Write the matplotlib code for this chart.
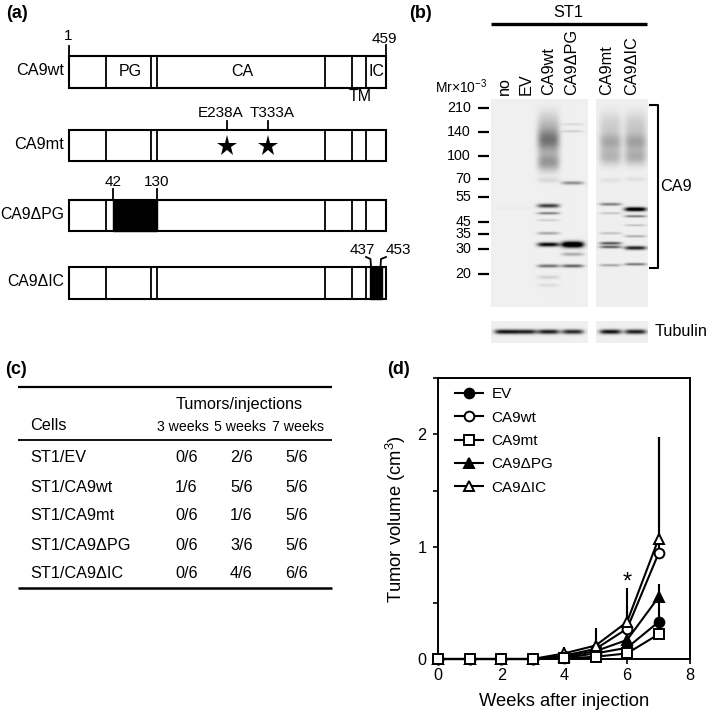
import matplotlib
matplotlib.use("Agg")
import matplotlib.pyplot as plt
import numpy as np

plt.rcParams["font.family"] = ["Liberation Sans", "DejaVu Sans"]
plt.rcParams["mathtext.fontset"] = "custom"
plt.rcParams["mathtext.rm"] = "Liberation Sans"
plt.rcParams["mathtext.default"] = "regular"

# panel (a): construct names and domain borders (pixel positions on the sketch)
constructs = ["CA9wt", "CA9mt", "CA9ΔPG", "CA9ΔIC"]
construct_sizes = [11.7, 11.7, 11.3, 11.3]
construct_tops = [56, 129.5, 199.5, 267]
box_left, box_right, box_height = 68.5, 386, 31.5
domain_borders = [106, 150.7, 156.7, 324.7, 352.3, 366]
pg_deletion_borders = [106]
pg_deletion = (113, 157)
ic_deletion_borders = [106, 150.7, 156.7, 324.7, 352.3]
ic_deletion = (370, 381.5)
star_x = [227, 267.5]
star_labels = ["E238A", "T333A"]

# panel (b): ladder and gel bands
ladder_labels = ["210", "140", "100", "70", "55", "45", "35", "30", "20"]
ladder_y = [108.3, 132.3, 156, 179, 196.7, 221.7, 234.3, 249, 274]
lane_labels = ["no", "EV", "CA9wt", "CA9ΔPG", "CA9mt", "CA9ΔIC"]
lane_label_x = [504, 526, 549, 572, 607, 632]
lane_x = [505, 525, 547.7, 571.7, 610, 635]
# (y, thickness, darkness) for every band or smear part
lane_bands = [
    [(208, 1.0, 0.02)],
    [(208, 1.0, 0.02)],
    [(122, 12, 0.15), (140, 12, 0.48), (162, 9, 0.34), (180, 2.5, 0.09),
     (205.5, 2.0, 0.72), (213, 1.3, 0.45), (220, 1.1, 0.14), (233, 1.4, 0.3),
     (244.3, 2.1, 0.95), (265.7, 1.6, 0.52), (277, 1.8, 0.12), (285, 1.6, 0.08)],
    [(124, 1.2, 0.1), (131, 1.2, 0.13), (182.7, 1.7, 0.4), (244.3, 3.0, 1.35),
     (254, 1.7, 0.28), (265.7, 1.6, 0.58)],
    [(125, 13, 0.13), (142, 9, 0.26), (157, 8, 0.22), (180, 2.5, 0.06), (204, 1.5, 0.45),
     (213, 1.1, 0.18), (233, 1.2, 0.2), (243, 1.4, 0.64), (246.7, 1.4, 0.6), (265, 1.3, 0.3)],
    [(125, 13, 0.15), (142, 9, 0.28), (157, 8, 0.25), (179, 2.5, 0.06), (209, 2.0, 1.15),
     (216, 1.2, 0.48), (225, 1.0, 0.2), (236, 1.2, 0.28), (247.7, 1.9, 0.85), (264, 1.3, 0.5)],
]
tubulin_darkness = [0.9, 0.85, 0.85, 0.8, 0.9, 0.85]

# panel (c): table
table_rows = ["ST1/EV", "ST1/CA9wt", "ST1/CA9mt", "ST1/CA9ΔPG", "ST1/CA9ΔIC"]
table_headers = ["3 weeks", "5 weeks", "7 weeks"]
weeks_3 = ["0/6", "1/6", "0/6", "0/6", "0/6"]
weeks_5 = ["2/6", "5/6", "1/6", "3/6", "4/6"]
weeks_7 = ["5/6", "5/6", "5/6", "5/6", "6/6"]
table_row_y = [458, 487, 516, 545, 573.5]
table_col_x = [186.5, 241.5, 297]
table_header_x = [182.5, 239.5, 298]

# panel (d): tumor growth
weeks = [0, 1, 2, 3, 4, 5, 6, 7]
ev = [0, 0, 0, 0, 0.01, 0.05, 0.10, 0.33]
ca9wt = [0, 0, 0, 0, 0.03, 0.09, 0.27, 0.94]
ca9mt = [0, 0, 0, 0, 0.005, 0.02, 0.05, 0.22]
ca9pg = [0, 0, 0, 0, 0.02, 0.07, 0.17, 0.55]
ca9ic = [0, 0, 0, 0, 0.05, 0.12, 0.33, 1.07]
ev_err = [0, 0, 0, 0, 0.01, 0.03, 0.06, 0.2]
ca9wt_err = [0, 0, 0, 0, 0.03, 0.08, 0.2, 1.04]
ca9mt_err = [0, 0, 0, 0, 0.005, 0.02, 0.04, 0.15]
ca9pg_err = [0, 0, 0, 0, 0.03, 0.08, 0.12, 0.12]
ca9ic_err = [0, 0, 0, 0, 0.06, 0.16, 0.30, 0.91]


def draw_box(ax, top, borders):
    ax.add_patch(plt.Rectangle((box_left, top), box_right - box_left, box_height,
                               fc="white", ec="black", lw=1.5, zorder=2))
    for x in borders:
        ax.plot([x, x], [top, top + box_height], color="black", lw=1.3, zorder=3)


def gel_image(left, right, top, bottom, lanes, bands, background=0.06):
    xs = np.arange(left, right, 0.5)
    ys = np.arange(top, bottom, 0.5)
    grid_x, grid_y = np.meshgrid(xs, ys)
    dark = np.full(grid_x.shape, background)
    for center, lane in zip(lanes, bands):
        across = np.exp(-(((grid_x - center) / 11) ** 4))
        for y, thick, amount in lane:
            dark += amount * across * np.exp(-(((grid_y - y) / thick) ** 2))
    return 1 - np.clip(dark, 0, 1)


def draw_gel(ax, left, right, top, bottom, lanes, bands):
    ax.imshow(gel_image(left, right, top, bottom, lanes, bands), cmap="gray", vmin=0, vmax=1,
              extent=(left, right, bottom, top), aspect="auto", interpolation="bilinear", zorder=1)


fig = plt.figure(figsize=(7.09, 7.12), dpi=100)
sketch = fig.add_axes([0, 0, 1, 1])

for label, x, y in [("(a)", 6, 14), ("(b)", 409, 14), ("(c)", 5, 370), ("(d)", 387, 369)]:
    sketch.text(x, y, label, fontsize=13, fontweight="bold", va="center")

# panel (a)
all_borders = [domain_borders, domain_borders, pg_deletion_borders + domain_borders[3:],
               ic_deletion_borders + [domain_borders[5]]]
for name, size, top, borders in zip(constructs, construct_sizes, construct_tops, all_borders):
    draw_box(sketch, top, borders)
    sketch.text(64, top + box_height / 2 - 1, name, fontsize=size, ha="right", va="center")

sketch.plot([68.5, 68.5], [46, 56], color="black", lw=1.3)
sketch.plot([386, 386], [45, 56], color="black", lw=1.3)
sketch.text(68.5, 36, "1", fontsize=11, ha="center", va="center")
sketch.text(384, 39, "459", fontsize=11, ha="center", va="center")
sketch.text(130, 72, "PG", fontsize=11.5, ha="center", va="center")
sketch.text(242, 72, "CA", fontsize=11.5, ha="center", va="center")
sketch.text(377, 72, "IC", fontsize=11.5, ha="center", va="center")
sketch.text(360, 96.5, "TM", fontsize=11.5, ha="center", va="center")

for x, label in zip(star_x, star_labels):
    sketch.plot([x, x], [121, 129.5], color="black", lw=1.3)
    sketch.plot(x, 146, marker="*", ms=15.5, color="black", mew=0, zorder=4)
    sketch.text(x - 6 if label == "E238A" else x + 5, 113, label, fontsize=11, ha="center", va="center")

sketch.add_patch(plt.Rectangle((pg_deletion[0], 199.5), pg_deletion[1] - pg_deletion[0], box_height,
                               fc="black", ec="black", zorder=4))
sketch.plot([113, 113], [189, 200], color="black", lw=1.3)
sketch.plot([157, 157], [189, 200], color="black", lw=1.3)
sketch.text(113, 182, "42", fontsize=11, ha="center", va="center")
sketch.text(157, 182, "130", fontsize=11, ha="center", va="center")

sketch.add_patch(plt.Rectangle((ic_deletion[0], 267), ic_deletion[1] - ic_deletion[0], box_height,
                               fc="black", ec="black", zorder=4))
sketch.plot([366, 370.5, 371], [257, 259, 267], color="black", lw=1.3)
sketch.plot([386, 381, 380.5], [257, 259, 267], color="black", lw=1.3)
sketch.text(362, 250, "437", fontsize=11, ha="center", va="center")
sketch.text(398, 250, "453", fontsize=11, ha="center", va="center")

# panel (b)
sketch.text(568, 12.5, "ST1", fontsize=11.7, ha="center", va="center")
sketch.plot([490.7, 646.7], [24.3, 24.3], color="black", lw=2.4, solid_capstyle="butt")
for x, label in zip(lane_label_x, lane_labels):
    sketch.text(x, 95, label, fontsize=11.7, rotation=90, ha="center", va="bottom")
sketch.text(487, 87, "Mr×10$^{-3}$", fontsize=10, ha="right", va="center")
for y, label in zip(ladder_y, ladder_labels):
    sketch.text(471, y, label, fontsize=10.3, ha="right", va="center")
    sketch.plot([477.5, 488.5], [y, y], color="black", lw=1.6, solid_capstyle="butt")

draw_gel(sketch, 490.7, 586.7, 99, 307, lane_x[:4], lane_bands[:4])
draw_gel(sketch, 595.7, 647.7, 99, 307, lane_x[4:], lane_bands[4:])
tubulin_bands = [[(331.5, 2.3, d)] for d in tubulin_darkness]
draw_gel(sketch, 490.7, 586.7, 321, 343, lane_x[:4], tubulin_bands[:4])
draw_gel(sketch, 595.7, 647.7, 321, 343, lane_x[4:], tubulin_bands[4:])

sketch.plot([650, 657.5, 657.5, 650], [105, 105, 268, 268], color="black", lw=1.5)
sketch.text(660.5, 186.5, "CA9", fontsize=11.7, va="center")
sketch.text(655, 331.5, "Tubulin", fontsize=11.7, va="center")

# panel (c)
for y, lw in [(387, 1.6), (439.5, 1.3), (588, 1.8)]:
    sketch.plot([18, 332], [y, y], color="black", lw=lw, solid_capstyle="butt")
sketch.text(239.5, 404, "Tumors/injections", fontsize=11.7, ha="center", va="center")
sketch.text(30.5, 425.5, "Cells", fontsize=11.7, va="center")
for x, label in zip(table_header_x, table_headers):
    sketch.text(x, 427, label, fontsize=10.2, ha="center", va="center")
for y, name, a, b, c in zip(table_row_y, table_rows, weeks_3, weeks_5, weeks_7):
    sketch.text(30.5, y, name, fontsize=11.7, va="center")
    for x, value in zip(table_col_x, [a, b, c]):
        sketch.text(x, y, value, fontsize=11.7, ha="center", va="center")

sketch.set_xlim(0, 709)
sketch.set_ylim(712, 0)
sketch.axis("off")

# panel (d)
ax = fig.add_axes([438.3 / 709, 1 - 659 / 712, (690 - 438.3) / 709, (659 - 378.3) / 712])
ax.patch.set_alpha(0)
series = [
    ("EV", ev, ev_err, "o", "black"),
    ("CA9wt", ca9wt, ca9wt_err, "o", "white"),
    ("CA9ΔPG", ca9pg, ca9pg_err, "^", "black"),
    ("CA9ΔIC", ca9ic, ca9ic_err, "^", "white"),
    ("CA9mt", ca9mt, ca9mt_err, "s", "white"),
]
handles = {}
for name, values, errs, marker, face in series:
    ax.errorbar(weeks, values, yerr=[np.zeros(len(errs)), errs], fmt="none", ecolor="black",
                elinewidth=1.5, capsize=0, clip_on=False, zorder=2)
    handles[name] = ax.plot(weeks, values, color="black", lw=1.5, marker=marker, ms=7,
                            mfc=face, mec="black", mew=1.4, clip_on=False, zorder=3, label=name)[0]

ax.set_xlim(0, 8)
ax.set_ylim(0, 2.5)
ax.set_xticks([0, 2, 4, 6, 8])
ax.set_yticks([0, 0.5, 1, 1.5, 2, 2.5])
ax.set_yticklabels(["0", "", "1", "", "2", ""])
ax.tick_params(length=3.6, width=1.2, labelsize=11.7, pad=3)
ax.tick_params(axis="y", pad=5)
for spine in ax.spines.values():
    spine.set_linewidth(1.4)
ax.set_xlabel("Weeks after injection", fontsize=13.2, labelpad=7)
ax.set_ylabel("Tumor volume (cm$^{3}$)", fontsize=13.2, labelpad=7)
ax.text(6, 0.68, "*", fontsize=17, ha="center", va="center")
ax.legend([handles[n] for n in ["EV", "CA9wt", "CA9mt", "CA9ΔPG", "CA9ΔIC"]],
          ["EV", "CA9wt", "CA9mt", "CA9ΔPG", "CA9ΔIC"], frameon=False, fontsize=11,
          loc="upper left", bbox_to_anchor=(0.03, 1.0), handlelength=1.8, handletextpad=0.6,
          labelspacing=0.61, borderaxespad=0.2)

fig.savefig("out.png", dpi=100)
